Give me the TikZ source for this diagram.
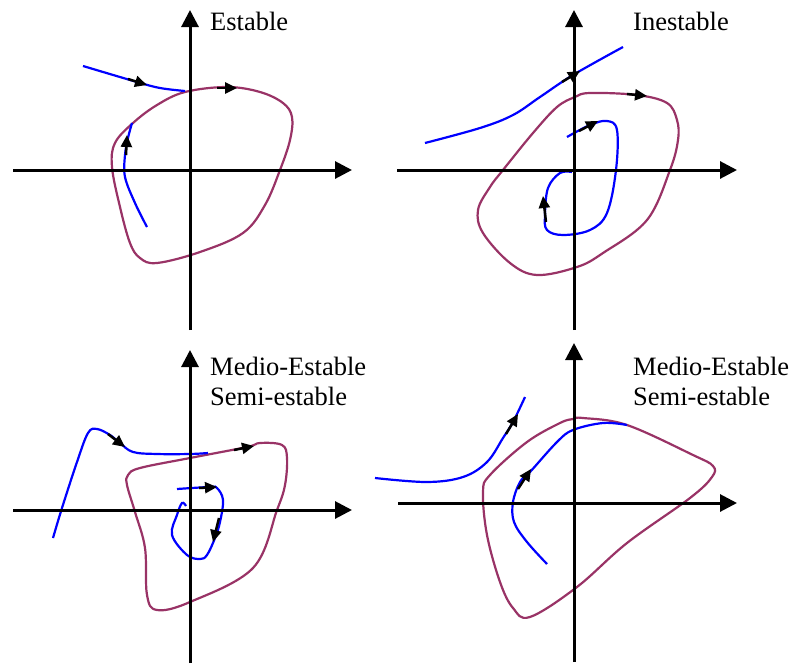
\documentclass[tikz,border=0pt]{standalone}
\usepackage{fontspec}
\setmainfont{Liberation Serif}
\usetikzlibrary{arrows.meta}
\definecolor{purp}{HTML}{993366}
\begin{document}
\begin{tikzpicture}[x=1pt,y=-1pt,
  axis/.style={line width=3pt,-{Triangle[length=17pt,width=17pt]}},
  limit/.style={purp,line width=2.2pt},
  traj/.style={blue,line width=2.2pt},
  flow/.style={black,line width=2.5pt,-{Triangle[length=12pt,width=11pt]}},
  lbl/.style={font=\fontsize{26.5}{30}\selectfont,anchor=base west,inner sep=0pt}]
\useasboundingbox (0,0) rectangle (793,664);

% ---------- Q1: Estable ----------
\draw[limit] plot[smooth cycle,tension=0.6] coordinates {(185,92) (227,87) (260,92) (283,103) (292,117) (290,140) (280,170) (265,205) (243,233) (200,252) (157,263) (140,258) (130,243) (120,207) (112,167) (115,143) (133,123) (157,105)};
\draw[traj] plot[smooth,tension=0.6] coordinates {(83,66) (137,82) (160,88) (185,91)};
\draw[traj] plot[smooth,tension=0.6] coordinates {(147,227) (135,203) (125,177) (125,155) (128,138) (132,123)};
\draw[axis] (13,170) -- (352,170);
\draw[axis] (190,330) -- (190,10);
\draw[flow] (128,79) -- (147,85);
\draw[flow] (217,88) -- (237,88);
\draw[flow] (126,155) -- (127,135);
\node[lbl] (t1) at (210,30) {Estable};

% ---------- Q2: Inestable ----------
\draw[limit] plot[smooth cycle,tension=0.6] coordinates {(575,97) (590,93) (637,95) (667,103) (677,120) (678,140) (670,170) (647,220) (603,253) (577,267) (537,275) (510,263) (483,233) (478,210) (490,187) (503,170) (533,133) (557,107)};
\draw[traj] plot[smooth,tension=0.6] coordinates {(425,143) (480,128) (513,115) (540,97) (573,75) (623,47)};
\draw[traj] plot[smooth,tension=0.6] coordinates {(567,137) (590,125) (607,121) (617,130) (616,170) (607,213) (590,230) (563,235) (547,230) (545,215) (548,188) (560,173) (572,172)};
\draw[axis] (397,170) -- (737,170);
\draw[axis] (574,330) -- (574,10);
\draw[flow] (562,82) -- (580,71);
\draw[flow] (627,94) -- (647,96);
\draw[flow] (579,131) -- (598,121);
\draw[flow] (546,222) -- (543,196);
\node[lbl] (t2) at (633,30) {Inestable};

% ---------- Q3: Medio-Estable ----------
\draw[limit] plot[smooth cycle,tension=0.6] coordinates {(140,468) (190,458) (247,447) (260,443) (282,445) (287,458) (285,485) (277,510) (253,568) (190,602) (157,610) (147,595) (145,548) (135,512) (127,485) (128,475)};
\draw[traj] plot[smooth,tension=0.6] coordinates {(53,538) (62,508) (77,462) (88,433) (97,429) (110,435) (120,443) (133,452) (157,454) (190,454) (208,453)};
\draw[traj] plot[smooth,tension=0.6] coordinates {(177,489) (210,487) (217,488) (223,500) (220,522) (215,538) (207,555) (200,559) (187,555) (172,535) (177,515) (182,503) (186,506)};
\draw[axis] (13,510) -- (352,510);
\draw[axis] (190,663) -- (190,350);
\draw[flow] (108,434) -- (125,447);
\draw[flow] (234,450) -- (254,446);
\draw[flow] (199,488) -- (217,487);
\draw[flow] (219,518) -- (213,542);
\node[lbl] (t3a) at (210,375) {Medio-Estable};
\node[lbl] (t3b) at (210,405) {Semi-estable};

% ---------- Q4: Medio-Estable ----------
\draw[limit] plot[smooth cycle,tension=0.6] coordinates {(573,419) (583,418) (627,425) (693,455) (713,466) (712,477) (690,498) (627,543) (577,587) (530,617) (513,608) (500,582) (487,535) (483,492) (490,475) (527,442) (560,423)};
\draw[traj] plot[smooth,tension=0.6] coordinates {(375,478) (427,482) (463,477) (487,462) (503,438) (513,422) (525,397)};
\draw[traj] plot[smooth,tension=0.6] coordinates {(547,564) (527,542) (514,522) (513,502) (520,482) (530,472) (557,442) (573,430) (603,423) (627,425)};
\draw[axis] (398,503) -- (737,503);
\draw[axis] (574,662) -- (574,343);
\draw[flow] (506,434) -- (518,414);
\draw[flow] (518,489) -- (531,469);
\node[lbl] (t4a) at (633,375) {Medio-Estable};
\node[lbl] (t4b) at (633,405) {Semi-estable};
\end{tikzpicture}
\end{document}
